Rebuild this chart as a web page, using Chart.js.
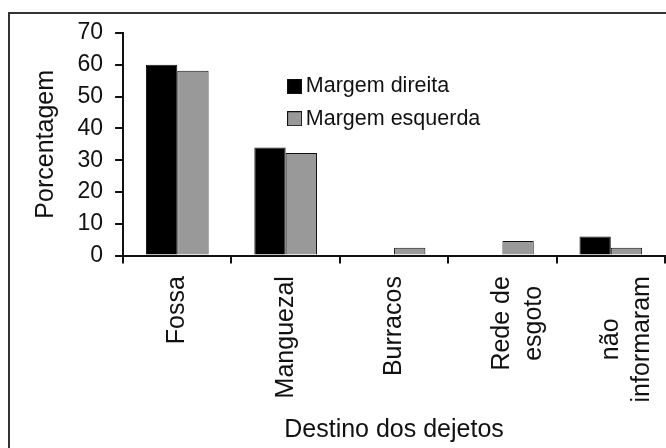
<!DOCTYPE html>
<html>
<head>
<meta charset="utf-8">
<script src="https://cdn.jsdelivr.net/npm/chart.js@4.4.1/dist/chart.umd.min.js"></script>
<style>
  html, body { margin: 0; padding: 0; background: #fff; }
  #wrap { position: relative; width: 666px; height: 448px; overflow: hidden; }
  #frame { position: absolute; left: 8px; top: 12px; width: 700px; height: 500px;
           border: 2px solid #333; box-sizing: border-box; }
  canvas { position: absolute; left: 0; top: 0; }
</style>
</head>
<body>
<div id="wrap">
  <div id="frame"></div>
  <canvas id="c" width="666" height="448"></canvas>
</div>
<script>
// Destino dos dejetos por margem do rio (%)
const categories = ['Fossa', 'Manguezal', 'Burracos', ['Rede de', 'esgoto'], ['não', 'informaram']];
const margemDireita = [60, 34, 0, 0, 6];
const margemEsquerda = [58.1, 32.3, 2.5, 4.6, 2.5];
const seriesNames = ['Margem direita', 'Margem esquerda'];
const yTicks = [0, 10, 20, 30, 40, 50, 60, 70];

const FONT = "'Liberation Sans', Arial, sans-serif";
const INK = '#111';

// small square swatch used as the legend marker
function swatch(color) {
  const c = document.createElement('canvas');
  c.width = 15; c.height = 15;
  const g = c.getContext('2d');
  g.fillStyle = color;
  g.fillRect(0, 0, 15, 15);
  g.strokeStyle = INK;
  g.lineWidth = 1;
  g.strokeRect(0.5, 0.5, 14, 14);
  return c;
}

// place the legend inside the plot area, right of the first groups
const legendPlace = {
  id: 'legendPlace',
  afterLayout(chart) {
    const lg = chart.legend, a = chart.chartArea;
    if (!lg) return;
    lg.left = a.left + 160;
    lg.top = a.top + 31.5;
    lg.right = lg.left + lg.width;
    lg.bottom = lg.top + lg.height;
  }
};

// center the lines of two-line category labels on each other
const centerLabels = {
  id: 'centerLabels',
  beforeDraw(chart) {
    const scale = chart.scales.x;
    const ctx = chart.ctx;
    scale.getLabelItems().forEach(item => {
      if (item._centered || item.options.textAlign !== 'right') return;
      const lines = Array.isArray(item.label) ? item.label : [item.label];
      ctx.save();
      ctx.font = item.font.string;
      const w = Math.max(...lines.map(l => ctx.measureText(l).width));
      ctx.restore();
      item.options.textAlign = 'center';
      item.options.translation[1] += w / 2;
      item._centered = true;
    });
  }
};

new Chart(document.getElementById('c'), {
  type: 'bar',
  data: {
    labels: categories,
    datasets: [
      { label: seriesNames[0], data: margemDireita, backgroundColor: '#000000',
        borderColor: INK, borderWidth: 1 },
      { label: seriesNames[1], data: margemEsquerda, backgroundColor: '#999999',
        borderColor: INK, borderWidth: 1 }
    ]
  },
  options: {
    responsive: false,
    animation: false,
    events: [],
    layout: { padding: { top: 33, right: 1, bottom: 0, left: 10 } },
    datasets: { bar: { categoryPercentage: 0.578, barPercentage: 1.0 } },
    plugins: {
      tooltip: { enabled: false },
      legend: {
        position: 'chartArea',
        align: 'start',
        labels: {
          usePointStyle: true,
          boxWidth: 1,
          padding: 11,
          color: INK,
          font: { family: FONT, size: 21.5 },
          generateLabels(chart) {
            return chart.data.datasets.map((ds, i) => ({
              text: ds.label,
              pointStyle: swatch(ds.backgroundColor),
              fillStyle: ds.backgroundColor,
              strokeStyle: INK,
              lineWidth: 1,
              fontColor: INK,
              hidden: false,
              datasetIndex: i
            }));
          }
        }
      }
    },
    scales: {
      x: {
        offset: true,
        afterFit(scale) { scale.paddingLeft = 0; scale.paddingRight = 0; },
        grid: { display: true, drawOnChartArea: false, drawTicks: true, tickLength: 8,
                color: INK, lineWidth: 2, offset: true },
        border: { display: true, color: INK, width: 2 },
        ticks: {
          autoSkip: false, minRotation: 90, maxRotation: 90, padding: 12.5,
          color: INK, font: { family: FONT, size: 25, lineHeight: 1.25 }
        },
        title: {
          display: true, text: 'Destino dos dejetos', color: INK,
          font: { family: FONT, size: 25 }, padding: { top: 0, bottom: 3 }
        }
      },
      y: {
        min: 0, max: 70,
        afterBuildTicks(scale) { scale.ticks = yTicks.map(v => ({ value: v })); },
        grid: { display: true, drawOnChartArea: false, drawTicks: true, tickLength: 8,
                color: INK, lineWidth: 2 },
        border: { display: true, color: INK, width: 2 },
        ticks: { autoSkip: false, padding: 12, color: INK, font: { family: FONT, size: 23 } },
        title: {
          display: true, text: 'Porcentagem', color: INK,
          font: { family: FONT, size: 25 }, padding: { top: 21, bottom: 4.5 }
        }
      }
    }
  },
  plugins: [legendPlace, centerLabels]
});
</script>
</body>
</html>
